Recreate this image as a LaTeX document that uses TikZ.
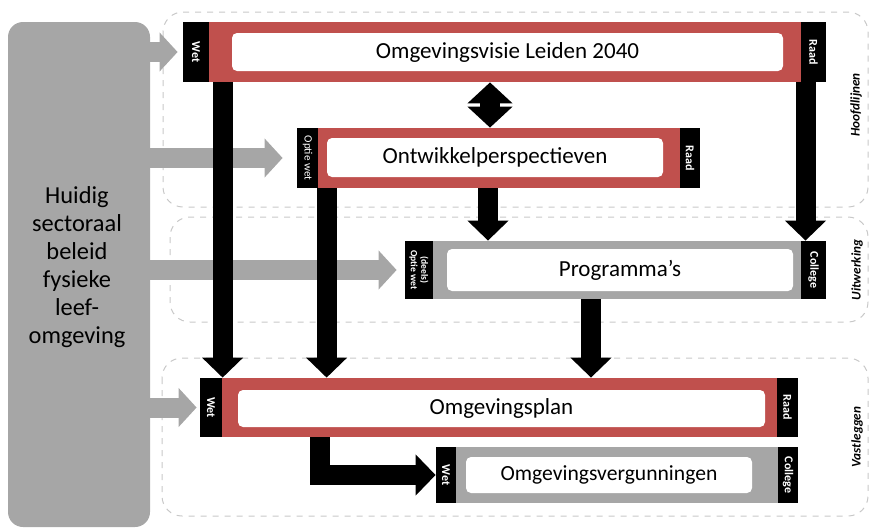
\documentclass[tikz,border=0pt]{standalone}
\usepackage{fontspec}
\setmainfont{Carlito}
\usetikzlibrary{arrows.meta}
\definecolor{barred}{HTML}{C0504D}
\definecolor{bargray}{HTML}{A6A6A6}
\definecolor{linegray}{HTML}{C8C8C8}

\begin{document}
\begin{tikzpicture}[x=0.5pt, y=-0.5pt,
    tab/.style={fill=black, inner sep=0pt},
    tablabel/.style={text=white, rotate=-90, align=center, inner sep=0pt,
      font=\bfseries\fontsize{6}{6}\selectfont},
    bar/.style={fill=barred, inner sep=0pt},
    graybar/.style={fill=bargray, inner sep=0pt},
    inbox/.style={fill=white, rounded corners=2.5pt, inner sep=0pt,
      font=\fontsize{11.5}{14}\selectfont},
    region/.style={draw=linegray, dashed, line width=0.5pt, rounded corners=10pt},
    level/.style={rotate=90, inner sep=0pt, font=\bfseries\itshape\fontsize{6.6}{8}\selectfont},
    blk/.style={line width=10pt, -{Triangle[width=20pt, length=10pt]}},
    gry/.style={draw=bargray, line width=10pt, -{Triangle[width=19pt, length=9pt]}}]
    \useasboundingbox (0,0) rectangle (877,531);

    % dashed areas
    \draw[region] (163,12) rectangle (868,207);
    \draw[region] (170,217) rectangle (868,322);
    \draw[region] (162,358) rectangle (868,516);
    \node[level] (hoofd) at (856,105) {Hoofdlijnen};
    \node[level] (uitw) at (857,270) {Uitwerking};
    \node[level] (vast) at (857,437) {Vastleggen};

    % current policy
    \node[graybar, rounded corners=7.5pt, minimum width=71pt, minimum height=252.5pt] (huidig) at (79,274.5) {};
    \node[align=center, font=\fontsize{12.2}{14}\selectfont] (huidigtxt) at (77,267.5)
      {Huidig\\sectoraal\\beleid\\fysieke\\leef-\\omgeving};

    % Omgevingsvisie
    \node[bar, minimum width=296pt, minimum height=30pt] (visie) at (505,52) {};
    \node[tab, minimum width=13pt, minimum height=30pt] (visiewet) at (196,52) {};
    \node[tab, minimum width=12.5pt, minimum height=30pt] (visieraad) at (813.5,52) {};
    \node[inbox, minimum width=275.5pt, minimum height=19pt] (visietxt) at (507.5,52) {Omgevingsvisie Leiden 2040};
    \node[tablabel] (visiewetlbl) at (visiewet) {Wet};
    \node[tablabel] (visieraadlbl) at (visieraad) {Raad};

    % Ontwikkelperspectieven
    \node[bar, minimum width=181pt, minimum height=30pt] (ontw) at (499,158) {};
    \node[tab, minimum width=10.5pt, minimum height=30pt] (ontwwet) at (307.5,158) {};
    \node[tab, minimum width=10pt, minimum height=30pt] (ontwraad) at (690,158) {};
    \node[inbox, minimum width=168pt, minimum height=19.5pt] (ontwtxt) at (495,157.5) {Ontwikkelperspectieven};
    \node[tablabel, font=\fontsize{5.6}{5.6}\selectfont] (ontwwetlbl) at (ontwwet) {Optie wet};
    \node[tablabel] (ontwraadlbl) at (ontwraad) {Raad};

    % Programma's
    \node[graybar, minimum width=184pt, minimum height=29pt] (prog) at (617,270) {};
    \node[tab, minimum width=14pt, minimum height=29pt] (progwet) at (419,270) {};
    \node[tab, minimum width=12.5pt, minimum height=29pt] (progcol) at (813.5,270) {};
    \node[inbox, minimum width=173pt, minimum height=21pt] (progtxt) at (620,270) {Programma’s};
    \node[tablabel, font=\bfseries\fontsize{4.8}{5.2}\selectfont] (progwetlbl) at (progwet) {(deels)\\Optie wet};
    \node[tablabel] (progcollbl) at (progcol) {College};

    % Omgevingsplan
    \node[bar, minimum width=277.5pt, minimum height=29.5pt] (plan) at (499.5,407.5) {};
    \node[tab, minimum width=11pt, minimum height=29.5pt] (planwet) at (211,407.5) {};
    \node[tab, minimum width=10.5pt, minimum height=29.5pt] (planraad) at (787.5,407.5) {};
    \node[inbox, minimum width=263.5pt, minimum height=18.5pt] (plantxt) at (501.5,408.5) {Omgevingsplan};
    \node[tablabel] (planwetlbl) at (planwet) {Wet};
    \node[tablabel] (planraadlbl) at (planraad) {Raad};

    % Omgevingsvergunningen
    \node[graybar, minimum width=161pt, minimum height=28pt] (verg) at (617,475) {};
    \node[tab, minimum width=10pt, minimum height=28pt] (vergwet) at (446,475) {};
    \node[tab, minimum width=10pt, minimum height=28pt] (vergcol) at (788,475) {};
    \node[inbox, minimum width=143pt, minimum height=18pt, font=\fontsize{10.8}{13}\selectfont] (vergtxt) at (609,475) {Omgevingsvergunningen};
    \node[tablabel] (vergwetlbl) at (vergwet) {Wet};
    \node[tablabel] (vergcollbl) at (vergcol) {College};

    % grey inputs
    \draw[gry] (huidig.east |- visiewet.west) -- ([xshift=-2.5pt]visiewet.west);
    \draw[gry] (huidig.east |- ontwwet.west) -- ([xshift=-7pt]ontwwet.west);
    \draw[gry] (huidig.east |- progwet.west) -- ([xshift=-4pt]progwet.west);
    \draw[gry] (huidig.east |- planwet.west) -- ([xshift=-1.5pt]planwet.west);

    % black arrows
    \coordinate (a1) at ([xshift=7pt]visie.south west);
    \coordinate (a2) at ([xshift=4.5pt]ontw.south west);
    \coordinate (a3) at ([xshift=-5.5pt]ontw.south);
    \coordinate (a4) at ([xshift=-4pt]visieraad.south);
    \coordinate (a5) at ([xshift=-13pt]prog.south);
    \coordinate (a6) at ([xshift=-7.5pt]visie.south);
    \coordinate (a7) at ([xshift=-90pt]plan.south);
    \draw[blk] (a1) -- (a1 |- plan.north);
    \draw[blk] (a2) -- (a2 |- plan.north);
    \draw[blk] (a3) -- (a3 |- prog.north);
    \draw[blk] (a4) -- (a4 |- prog.north);
    \draw[blk] (a5) -- (a5 |- plan.north);
    \draw[blk, {Triangle[width=22pt, length=10.5pt]}-{Triangle[width=22pt, length=10.5pt]}] (a6) -- (a6 |- ontw.north);
    \draw[blk] (a7) |- (vergwet.west);
\end{tikzpicture}
\end{document}
